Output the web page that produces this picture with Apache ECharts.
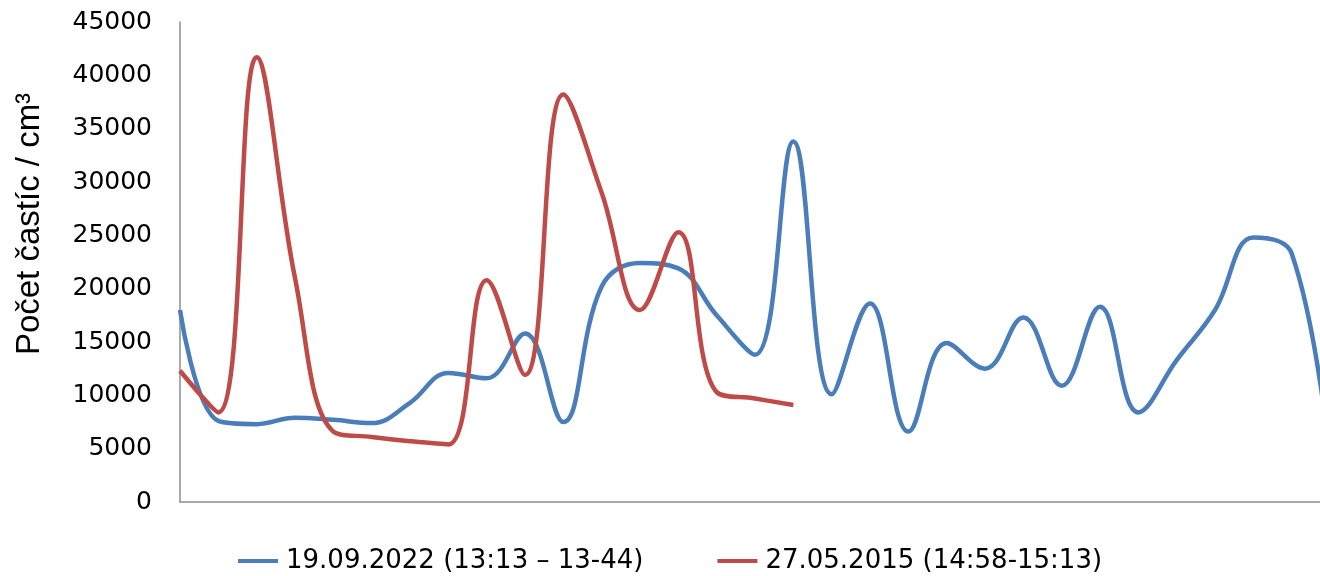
<!DOCTYPE html>
<html>
<head>
<meta charset="utf-8">
<script src="https://cdn.jsdelivr.net/npm/echarts@6/dist/echarts.min.js"></script>
<style>
  html, body { margin: 0; padding: 0; background: #fff; }
  #chart { width: 1320px; height: 576px; }
</style>
</head>
<body>
<div id="chart"></div>
<script>
// measurement points (no labels on the x axis)
var categories = ['1','2','3','4','5','6','7','8','9','10','11','12','13','14','15','16',
  '17','18','19','20','21','22','23','24','25','26','27','28','29','30','31'];

// 19.09.2022 (13:13 – 13-44)
var series2022 = [18000, 7600, 7300, 7900, 7700, 7400, 9300, 12100, 11600, 15800,
  7500, 20200, 22400, 21900, 17500, 13800, 33800, 10100, 18600, 6600,
  14900, 12500, 17300, 10900, 18300, 8400, 13300, 18000, 24800, 23300, 4000];

// 27.05.2015 (14:58-15:13)
var series2015 = [12300, 8400, 41700, 21000, 6600, 6100, 5700, 5400, 20800, 11900,
  38200, 29000, 18000, 25300, 10300, 9700, 9100];

var yTicks = { min: 0, max: 45000, interval: 5000 };

var myChart = echarts.init(document.getElementById('chart'));
var option = {
  animation: false,
  grid: {
    left: 180,
    top: 22,
    width: 1150,   // last point sits just past the right edge of the picture
    height: 480,
    outerBoundsMode: 'none'
  },
  legend: {
    left: 238,
    top: 548,
    padding: 0,
    icon: 'rect',
    itemWidth: 40,
    itemHeight: 4,
    itemGap: 74,
    textStyle: {
      fontFamily: 'DejaVu Sans',
      fontSize: 26,
      color: '#000',
      padding: [0, 0, 0, 3]
    },
    data: ['19.09.2022 (13:13 – 13-44)', '27.05.2015 (14:58-15:13)']
  },
  xAxis: {
    type: 'category',
    boundaryGap: false,
    data: categories,
    axisLine: { lineStyle: { color: '#8c8c8c', width: 1.5 } },
    axisTick: { show: false },
    axisLabel: { show: false },
    splitLine: { show: false }
  },
  yAxis: {
    type: 'value',
    min: yTicks.min,
    max: yTicks.max,
    interval: yTicks.interval,
    name: 'Počet častíc / cm³',
    nameLocation: 'middle',
    nameGap: 134,
    nameTextStyle: {
      fontFamily: 'Liberation Sans',
      fontSize: 33,
      color: '#000',
      padding: [0, 0, 0, 76]
    },
    axisLine: { show: true, lineStyle: { color: '#8c8c8c', width: 1.5 } },
    axisTick: { show: false },
    splitLine: { show: false }, // no grid lines
    axisLabel: {
      fontFamily: 'DejaVu Sans',
      fontSize: 25,
      color: '#000',
      margin: 28,
      formatter: function (v) { return String(v); }
    }
  },
  series: [
    {
      name: '19.09.2022 (13:13 – 13-44)',
      type: 'line',
      smooth: 0.4,
      showSymbol: false,
      lineStyle: { color: '#4a7ebb', width: 4.5 },
      itemStyle: { color: '#4a7ebb' },
      data: series2022
    },
    {
      name: '27.05.2015 (14:58-15:13)',
      type: 'line',
      smooth: 0.4,
      showSymbol: false,
      lineStyle: { color: '#be4b48', width: 4.5 },
      itemStyle: { color: '#be4b48' },
      data: series2015
    }
  ]
};
myChart.setOption(option);
</script>
</body>
</html>
